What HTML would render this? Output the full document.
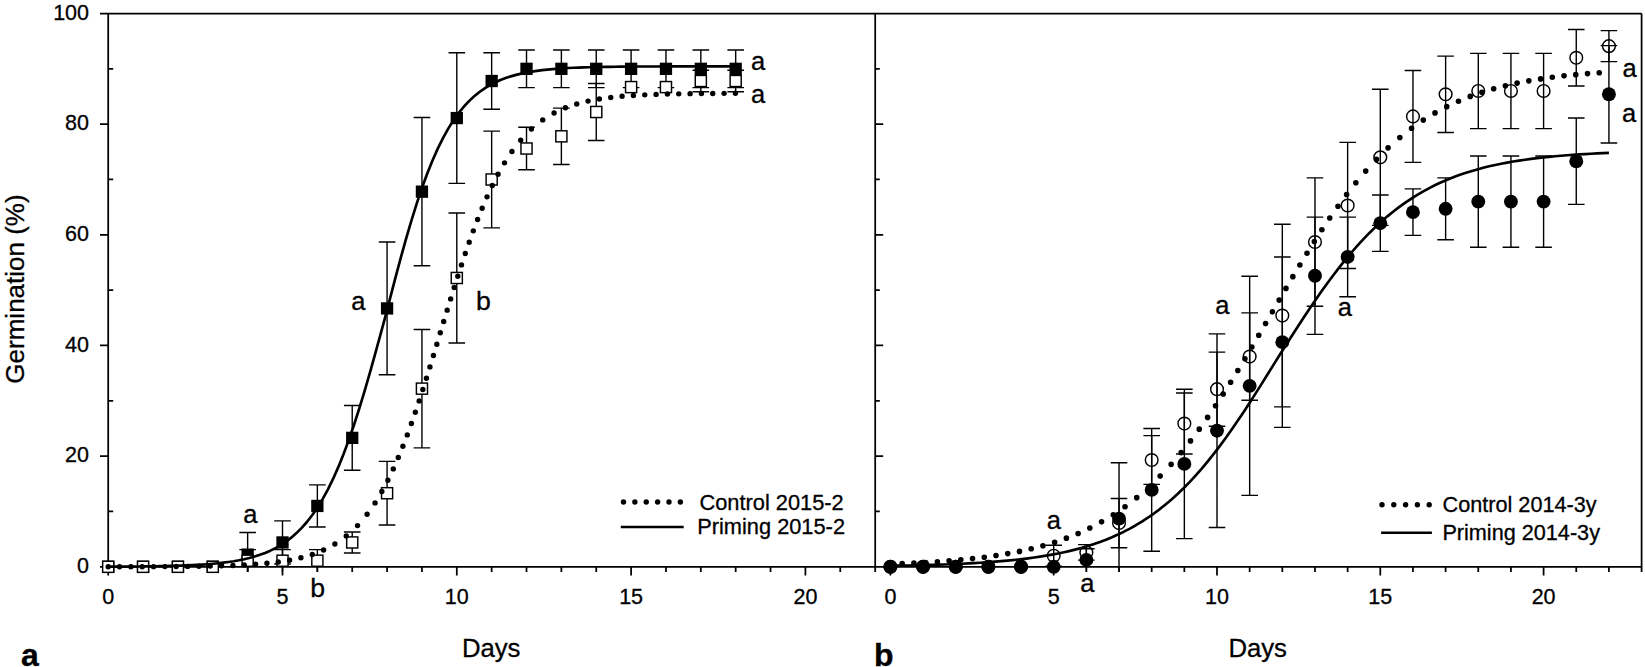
<!DOCTYPE html>
<html lang="en"><head><meta charset="utf-8"><title>Germination curves</title>
<style>html,body{margin:0;padding:0;background:#fff;overflow:hidden}svg{display:block}text{font-family:"Liberation Sans",Arial,sans-serif;fill:#000;stroke:#000;stroke-width:.3px}.tk{font-size:21.5px}.lb{font-size:26px}.an{font-size:27px}.lg{font-size:21.8px}.pn{font-size:32px;font-weight:bold}</style></head><body>
<svg width="1645" height="667" viewBox="0 0 1645 667">
<rect width="1645" height="667" fill="#fff"/>
<path d="M100 13.5H1641.6M100 566.8H1641.6M108.2 13.5V566.8M875.2 13.5V572M1641.6 13.5V572M108.2 511.47H113.2M875.2 511.47H879.8M100 456.14H108.2M875.2 456.14H883.2M108.2 400.81H113.2M875.2 400.81H879.8M100 345.48H108.2M875.2 345.48H883.2M108.2 290.15H113.2M875.2 290.15H879.8M100 234.82H108.2M875.2 234.82H883.2M108.2 179.49H113.2M875.2 179.49H879.8M100 124.16H108.2M875.2 124.16H883.2M108.2 68.83H113.2M875.2 68.83H879.8M108.2 566.8V575.5M143.06 566.8V572M177.92 566.8V572M212.78 566.8V572M247.64 566.8V572M282.5 566.8V575.5M317.36 566.8V572M352.22 566.8V572M387.08 566.8V572M421.94 566.8V572M456.8 566.8V575.5M491.66 566.8V572M526.52 566.8V572M561.38 566.8V572M596.24 566.8V572M631.1 566.8V575.5M665.96 566.8V572M700.82 566.8V572M735.68 566.8V572M770.54 566.8V572M805.4 566.8V575.5M840.26 566.8V572M890.4 566.8V575.5M923.06 566.8V572M955.72 566.8V572M988.38 566.8V572M1021.04 566.8V572M1053.7 566.8V575.5M1086.36 566.8V572M1119.02 566.8V572M1151.68 566.8V572M1184.34 566.8V572M1217 566.8V575.5M1249.66 566.8V572M1282.32 566.8V572M1314.98 566.8V572M1347.64 566.8V572M1380.3 566.8V575.5M1412.96 566.8V572M1445.62 566.8V572M1478.28 566.8V572M1510.94 566.8V572M1543.6 566.8V575.5M1576.26 566.8V572M1608.92 566.8V572" fill="none" stroke="#000" stroke-width="1.75"/>
<g>
<path d="M247.64 532.5V571.8M239.34 532.5H255.94M282.5 520.88V564.03M274.2 520.88H290.8M274.2 564.03H290.8M317.36 484.91V526.96M309.06 484.91H325.66M309.06 526.96H325.66M352.22 405.51V470.25M343.92 405.51H360.52M343.92 470.25H360.52M387.08 242.01V374.8M378.78 242.01H395.38M378.78 374.8H395.38M421.94 117.52V265.8M413.64 117.52H430.24M413.64 265.8H430.24M456.8 52.78V183.36M448.5 52.78H465.1M448.5 183.36H465.1M491.66 52.78V109.22M483.36 52.78H499.96M483.36 109.22H499.96M526.52 50.02V87.64M518.22 50.02H534.82M518.22 87.64H534.82M561.38 50.02V87.64M553.08 50.02H569.68M553.08 87.64H569.68M596.24 50.02V87.64M587.94 50.02H604.54M587.94 87.64H604.54M631.1 50.02V87.64M622.8 50.02H639.4M622.8 87.64H639.4M665.96 50.02V87.64M657.66 50.02H674.26M657.66 87.64H674.26M700.82 50.02V87.64M692.52 50.02H709.12M692.52 87.64H709.12M735.68 50.02V87.64M727.38 50.02H743.98M727.38 87.64H743.98" fill="none" stroke="#000" stroke-width="1.4"/>
<rect x="102.05" y="560.65" width="12.3" height="12.3" fill="#000"/><rect x="136.91" y="560.65" width="12.3" height="12.3" fill="#000"/><rect x="171.77" y="560.65" width="12.3" height="12.3" fill="#000"/><rect x="206.63" y="560.65" width="12.3" height="12.3" fill="#000"/><rect x="241.49" y="548.48" width="12.3" height="12.3" fill="#000"/><rect x="276.35" y="536.3" width="12.3" height="12.3" fill="#000"/><rect x="311.21" y="499.79" width="12.3" height="12.3" fill="#000"/><rect x="346.07" y="431.73" width="12.3" height="12.3" fill="#000"/><rect x="380.93" y="302.26" width="12.3" height="12.3" fill="#000"/><rect x="415.79" y="185.51" width="12.3" height="12.3" fill="#000"/><rect x="450.65" y="111.92" width="12.3" height="12.3" fill="#000"/><rect x="485.51" y="74.85" width="12.3" height="12.3" fill="#000"/><rect x="520.37" y="62.68" width="12.3" height="12.3" fill="#000"/><rect x="555.23" y="62.68" width="12.3" height="12.3" fill="#000"/><rect x="590.09" y="62.68" width="12.3" height="12.3" fill="#000"/><rect x="624.95" y="62.68" width="12.3" height="12.3" fill="#000"/><rect x="659.81" y="62.68" width="12.3" height="12.3" fill="#000"/><rect x="694.67" y="62.68" width="12.3" height="12.3" fill="#000"/><rect x="729.53" y="62.68" width="12.3" height="12.3" fill="#000"/>
<path d="M247.64 549.65V571.78M239.34 549.65H255.94M282.5 549.65V571.78M274.2 549.65H290.8M317.36 549.65V571.78M309.06 549.65H325.66M352.22 531.94V552.97M343.92 531.94H360.52M343.92 552.97H360.52M387.08 461.4V525.03M378.78 461.4H395.38M378.78 525.03H395.38M421.94 329.43V447.84M413.64 329.43H430.24M413.64 447.84H430.24M456.8 212.96V342.99M448.5 212.96H465.1M448.5 342.99H465.1M491.66 131.08V227.9M483.36 131.08H499.96M483.36 227.9H499.96M526.52 127.2V169.81M518.22 127.2H534.82M518.22 169.81H534.82M561.38 108.11V164.55M553.08 108.11H569.68M553.08 164.55H569.68M596.24 83.49V140.48M587.94 83.49H604.54M587.94 140.48H604.54M700.82 70.21V91.79M692.52 70.21H709.12M692.52 91.79H709.12M735.68 70.21V91.79M727.38 70.21H743.98M727.38 91.79H743.98" fill="none" stroke="#000" stroke-width="1.4"/>
<rect x="102.65" y="561.25" width="11.1" height="11.1" fill="#fff" stroke="#000" stroke-width="1.45"/><rect x="137.51" y="561.25" width="11.1" height="11.1" fill="#fff" stroke="#000" stroke-width="1.45"/><rect x="172.37" y="561.25" width="11.1" height="11.1" fill="#fff" stroke="#000" stroke-width="1.45"/><rect x="207.23" y="561.25" width="11.1" height="11.1" fill="#fff" stroke="#000" stroke-width="1.45"/><rect x="242.09" y="555.16" width="11.1" height="11.1" fill="#fff" stroke="#000" stroke-width="1.45"/><rect x="276.95" y="555.16" width="11.1" height="11.1" fill="#fff" stroke="#000" stroke-width="1.45"/><rect x="311.81" y="555.16" width="11.1" height="11.1" fill="#fff" stroke="#000" stroke-width="1.45"/><rect x="346.67" y="536.9" width="11.1" height="11.1" fill="#fff" stroke="#000" stroke-width="1.45"/><rect x="381.53" y="487.66" width="11.1" height="11.1" fill="#fff" stroke="#000" stroke-width="1.45"/><rect x="416.39" y="383.09" width="11.1" height="11.1" fill="#fff" stroke="#000" stroke-width="1.45"/><rect x="451.25" y="272.43" width="11.1" height="11.1" fill="#fff" stroke="#000" stroke-width="1.45"/><rect x="486.11" y="173.94" width="11.1" height="11.1" fill="#fff" stroke="#000" stroke-width="1.45"/><rect x="520.97" y="142.96" width="11.1" height="11.1" fill="#fff" stroke="#000" stroke-width="1.45"/><rect x="555.83" y="130.78" width="11.1" height="11.1" fill="#fff" stroke="#000" stroke-width="1.45"/><rect x="590.69" y="106.44" width="11.1" height="11.1" fill="#fff" stroke="#000" stroke-width="1.45"/><rect x="625.55" y="81.54" width="11.1" height="11.1" fill="#fff" stroke="#000" stroke-width="1.45"/><rect x="660.41" y="81.54" width="11.1" height="11.1" fill="#fff" stroke="#000" stroke-width="1.45"/><rect x="695.27" y="75.45" width="11.1" height="11.1" fill="#fff" stroke="#000" stroke-width="1.45"/><rect x="730.13" y="75.45" width="11.1" height="11.1" fill="#fff" stroke="#000" stroke-width="1.45"/>
<path d="M108.2 566.66L113.43 566.64L118.66 566.61L123.89 566.58L129.12 566.54L134.34 566.5L139.57 566.45L144.8 566.39L150.03 566.32L155.26 566.25L160.49 566.15L165.72 566.04L170.95 565.92L176.18 565.77L181.41 565.6L186.63 565.4L191.86 565.17L197.09 564.89L202.32 564.58L207.55 564.21L212.78 563.78L218.01 563.27L223.24 562.69L228.47 562.01L233.7 561.22L238.93 560.3L244.15 559.22L249.38 557.98L254.61 556.53L259.84 554.86L265.07 552.92L270.3 550.67L275.53 548.07L280.76 545.08L285.99 541.63L291.21 537.66L296.44 533.12L301.67 527.92L306.9 522L312.13 515.28L317.36 507.68L322.59 499.13L327.82 489.56L333.05 478.92L338.28 467.14L343.5 454.23L348.73 440.16L353.96 424.99L359.19 408.76L364.42 391.58L369.65 373.59L374.88 354.96L380.11 335.88L385.34 316.57L390.57 296.33L395.79 276.34L401.02 256.88L406.25 238.15L411.48 220.34L416.71 203.61L421.94 188.06L427.17 173.75L432.4 160.7L437.63 148.91L442.86 138.32L448.08 128.9L453.31 120.55L458.54 113.19L463.77 106.74L469 101.12L474.23 96.22L479.46 91.98L484.69 88.31L489.92 85.14L495.15 82.42L500.38 80.08L505.6 78.07L510.83 76.35L516.06 74.88L521.29 73.62L526.52 72.54L531.75 71.62L536.98 70.84L542.21 70.17L547.44 69.6L552.66 69.12L557.89 68.7L563.12 68.35L568.35 68.05L573.58 67.79L578.81 67.58L584.04 67.39L589.27 67.24L594.5 67.1L599.73 66.99L604.96 66.89L610.18 66.81L615.41 66.74L620.64 66.68L625.87 66.63L631.1 66.59L636.33 66.55L641.56 66.52L646.79 66.49L652.02 66.47L657.25 66.45L662.47 66.43L667.7 66.42L672.93 66.41L678.16 66.4L683.39 66.39L688.62 66.38L693.85 66.38L699.08 66.37L704.31 66.37L709.54 66.36L714.76 66.36L719.99 66.36L725.22 66.35L730.45 66.35L735.68 66.35" fill="none" stroke="#000" stroke-width="2.65" stroke-linejoin="round"/>
<path d="M108.2 566.76h.01M119.56 566.74h.01M130.88 566.72h.01M142.21 566.69h.01M153.57 566.65h.01M164.89 566.6h.01M176.22 566.52h.01M187.58 566.42h.01M198.9 566.28h.01M210.23 566.08h.01M221.55 565.82h.01M232.91 565.45h.01M244.24 564.94h.01M255.56 564.25h.01M266.92 563.3h.01M278.25 561.99h.01M289.57 560.22h.01M300.9 557.79h.01M312.26 554.49h.01M323.58 550.04h.01M334.91 544.06h.01M346.27 536.05h.01M357.53 525.59h.01M367.1 514.27h.01M375.04 502.91h.01M381.84 491.57h.01M387.87 480.22h.01M393.3 468.89h.01M398.28 457.55h.01M402.9 446.27h.01M407.26 434.92h.01M411.4 423.55h.01M415.35 412.21h.01M419.15 400.89h.01M422.85 389.5h.01M426.43 378.21h.01M429.94 366.89h.01M433.42 355.5h.01M436.84 344.19h.01M440.26 332.82h.01M443.68 321.56h.01M447.16 310.17h.01M450.65 298.88h.01M454.19 287.53h.01M457.8 276.18h.01M461.47 264.89h.01M465.27 253.55h.01M469.19 242.23h.01M473.3 230.85h.01M477.6 219.51h.01M482.15 208.18h.01M487.01 196.85h.01M492.28 185.51h.01M498.05 174.19h.01M504.52 162.86h.01M511.92 151.52h.01M520.67 140.2h.01M531.4 129.02h.01M542.73 119.91h.01M554.06 113.01h.01M565.41 107.82h.01M576.74 103.96h.01M588.07 101.1h.01M599.39 98.99h.01M610.75 97.44h.01M622.07 96.3h.01M633.4 95.46h.01M644.76 94.84h.01M656.08 94.4h.01M667.41 94.07h.01M678.74 93.83h.01M690.09 93.65h.01M701.42 93.52h.01M712.75 93.43h.01M724.1 93.36h.01M735.43 93.31h.01" fill="none" stroke="#000" stroke-width="5.4" stroke-linecap="round"/>
</g>
<g>
<path d="M1053.7 545.22V566.25M1045.4 545.22H1062M1045.4 566.25H1062M1086.36 544.67V560.16M1078.06 544.67H1094.66M1078.06 560.16H1094.66M1119.02 498.47V547.71M1110.72 498.47H1127.32M1110.72 547.71H1127.32M1151.68 435.67V484.36M1143.38 435.67H1159.98M1143.38 484.36H1159.98M1184.34 393.06V453.93M1176.04 393.06H1192.64M1176.04 453.93H1192.64M1217 352.12V426.26M1208.7 352.12H1225.3M1208.7 426.26H1225.3M1249.66 312.84V400.26M1241.36 312.84H1257.96M1241.36 400.26H1257.96M1282.32 224.31V406.9M1274.02 224.31H1290.62M1274.02 406.9H1290.62M1314.98 177.83V306.2M1306.68 177.83H1323.28M1306.68 306.2H1323.28M1347.64 142.42V268.57M1339.34 142.42H1355.94M1339.34 268.57H1355.94M1380.3 89.3V225.41M1372 89.3H1388.6M1372 225.41H1388.6M1412.96 70.49V162.34M1404.66 70.49H1421.26M1404.66 162.34H1421.26M1445.62 56.1V132.46M1437.32 56.1H1453.92M1437.32 132.46H1453.92M1478.28 53.34V128.59M1469.98 53.34H1486.58M1469.98 128.59H1486.58M1510.94 53.34V128.59M1502.64 53.34H1519.24M1502.64 128.59H1519.24M1543.6 53.34V128.59M1535.3 53.34H1551.9M1535.3 128.59H1551.9M1576.26 29.55V85.98M1567.96 29.55H1584.56M1567.96 85.98H1584.56M1608.92 30.65V61.64M1600.62 30.65H1617.22M1600.62 61.64H1617.22" fill="none" stroke="#000" stroke-width="1.4"/>
<circle cx="890.4" cy="566.8" r="6.35" fill="none" stroke="#000" stroke-width="1.45"/><circle cx="923.06" cy="566.8" r="6.35" fill="none" stroke="#000" stroke-width="1.45"/><circle cx="955.72" cy="566.8" r="6.35" fill="none" stroke="#000" stroke-width="1.45"/><circle cx="988.38" cy="566.8" r="6.35" fill="none" stroke="#000" stroke-width="1.45"/><circle cx="1021.04" cy="566.8" r="6.35" fill="none" stroke="#000" stroke-width="1.45"/><circle cx="1053.7" cy="555.73" r="6.35" fill="none" stroke="#000" stroke-width="1.45"/><circle cx="1086.36" cy="552.41" r="6.35" fill="none" stroke="#000" stroke-width="1.45"/><circle cx="1119.02" cy="523.09" r="6.35" fill="none" stroke="#000" stroke-width="1.45"/><circle cx="1151.68" cy="460.01" r="6.35" fill="none" stroke="#000" stroke-width="1.45"/><circle cx="1184.34" cy="423.5" r="6.35" fill="none" stroke="#000" stroke-width="1.45"/><circle cx="1217" cy="389.19" r="6.35" fill="none" stroke="#000" stroke-width="1.45"/><circle cx="1249.66" cy="356.55" r="6.35" fill="none" stroke="#000" stroke-width="1.45"/><circle cx="1282.32" cy="315.6" r="6.35" fill="none" stroke="#000" stroke-width="1.45"/><circle cx="1314.98" cy="242.01" r="6.35" fill="none" stroke="#000" stroke-width="1.45"/><circle cx="1347.64" cy="205.5" r="6.35" fill="none" stroke="#000" stroke-width="1.45"/><circle cx="1380.3" cy="157.36" r="6.35" fill="none" stroke="#000" stroke-width="1.45"/><circle cx="1412.96" cy="116.41" r="6.35" fill="none" stroke="#000" stroke-width="1.45"/><circle cx="1445.62" cy="94.28" r="6.35" fill="none" stroke="#000" stroke-width="1.45"/><circle cx="1478.28" cy="90.96" r="6.35" fill="none" stroke="#000" stroke-width="1.45"/><circle cx="1510.94" cy="90.96" r="6.35" fill="none" stroke="#000" stroke-width="1.45"/><circle cx="1543.6" cy="90.96" r="6.35" fill="none" stroke="#000" stroke-width="1.45"/><circle cx="1576.26" cy="57.76" r="6.35" fill="none" stroke="#000" stroke-width="1.45"/><circle cx="1608.92" cy="46.14" r="6.35" fill="none" stroke="#000" stroke-width="1.45"/>
<path d="M1086.36 548.82V570.95M1078.06 548.82H1094.66M1119.02 462.78V571.8M1110.72 462.78H1127.32M1151.68 428.47V551.31M1143.38 428.47H1159.98M1143.38 551.31H1159.98M1184.34 389.19V538.58M1176.04 389.19H1192.64M1176.04 538.58H1192.64M1217 333.86V527.52M1208.7 333.86H1225.3M1208.7 527.52H1225.3M1249.66 276.32V495.42M1241.36 276.32H1257.96M1241.36 495.42H1257.96M1282.32 256.95V427.37M1274.02 256.95H1290.62M1274.02 427.37H1290.62M1314.98 217.11V334.41M1306.68 217.11H1323.28M1306.68 334.41H1323.28M1347.64 217.11V296.79M1339.34 217.11H1355.94M1339.34 296.79H1355.94M1380.3 194.98V251.42M1372 194.98H1388.6M1372 251.42H1388.6M1412.96 188.9V235.37M1404.66 188.9H1421.26M1404.66 235.37H1421.26M1445.62 177.83V239.8M1437.32 177.83H1453.92M1437.32 239.8H1453.92M1478.28 155.97V247.27M1469.98 155.97H1486.58M1469.98 247.27H1486.58M1510.94 155.97V247.27M1502.64 155.97H1519.24M1502.64 247.27H1519.24M1543.6 155.97V247.27M1535.3 155.97H1551.9M1535.3 247.27H1551.9M1576.26 118.07V204.39M1567.96 118.07H1584.56M1567.96 204.39H1584.56M1608.92 45.59V142.97M1600.62 45.59H1617.22M1600.62 142.97H1617.22" fill="none" stroke="#000" stroke-width="1.4"/>
<circle cx="890.4" cy="566.8" r="6.95" fill="#000"/><circle cx="923.06" cy="566.8" r="6.95" fill="#000"/><circle cx="955.72" cy="566.8" r="6.95" fill="#000"/><circle cx="988.38" cy="566.8" r="6.95" fill="#000"/><circle cx="1021.04" cy="566.8" r="6.95" fill="#000"/><circle cx="1053.7" cy="566.8" r="6.95" fill="#000"/><circle cx="1086.36" cy="559.88" r="6.95" fill="#000"/><circle cx="1119.02" cy="518.66" r="6.95" fill="#000"/><circle cx="1151.68" cy="489.89" r="6.95" fill="#000"/><circle cx="1184.34" cy="463.89" r="6.95" fill="#000"/><circle cx="1217" cy="430.69" r="6.95" fill="#000"/><circle cx="1249.66" cy="385.87" r="6.95" fill="#000"/><circle cx="1282.32" cy="342.16" r="6.95" fill="#000"/><circle cx="1314.98" cy="275.76" r="6.95" fill="#000"/><circle cx="1347.64" cy="256.95" r="6.95" fill="#000"/><circle cx="1380.3" cy="223.2" r="6.95" fill="#000"/><circle cx="1412.96" cy="212.13" r="6.95" fill="#000"/><circle cx="1445.62" cy="208.81" r="6.95" fill="#000"/><circle cx="1478.28" cy="201.62" r="6.95" fill="#000"/><circle cx="1510.94" cy="201.62" r="6.95" fill="#000"/><circle cx="1543.6" cy="201.62" r="6.95" fill="#000"/><circle cx="1576.26" cy="161.23" r="6.95" fill="#000"/><circle cx="1608.92" cy="94.28" r="6.95" fill="#000"/>
<path d="M890.4 565.79L896.39 565.69L902.38 565.58L908.36 565.46L914.35 565.33L920.34 565.19L926.33 565.03L932.31 564.86L938.3 564.67L944.29 564.46L950.28 564.24L956.26 563.99L962.25 563.72L968.24 563.42L974.23 563.09L980.21 562.73L986.2 562.34L992.19 561.91L998.18 561.44L1004.17 560.92L1010.15 560.36L1016.14 559.74L1022.13 559.07L1028.12 558.33L1034.1 557.52L1040.09 556.64L1046.08 555.67L1052.07 554.62L1058.05 553.47L1064.04 552.21L1070.03 550.84L1076.02 549.35L1082.01 547.73L1087.99 545.96L1093.98 544.04L1099.97 541.95L1105.96 539.69L1111.94 537.23L1117.93 534.57L1123.92 531.69L1129.91 528.58L1135.89 525.23L1141.88 521.61L1147.87 517.72L1153.86 513.55L1159.85 509.08L1165.83 504.29L1171.82 499.18L1177.81 493.75L1183.8 487.97L1189.78 481.85L1195.77 475.38L1201.76 468.57L1207.75 461.41L1213.73 453.92L1219.72 446.1L1225.71 437.96L1231.7 429.54L1237.68 420.84L1243.67 411.9L1249.66 402.74L1255.65 393.4L1261.64 383.91L1267.62 374.31L1273.61 364.65L1279.6 355.05L1285.59 345.61L1291.57 336.22L1297.56 326.93L1303.55 317.76L1309.54 308.76L1315.52 299.94L1321.51 291.35L1327.5 283.01L1333.49 274.93L1339.47 267.15L1345.46 259.67L1351.45 252.5L1357.44 245.66L1363.43 239.14L1369.41 232.95L1375.4 227.1L1381.39 221.57L1387.38 216.36L1393.36 211.46L1399.35 206.86L1405.34 202.56L1411.33 198.54L1417.31 194.8L1423.3 191.31L1429.29 188.06L1435.28 185.05L1441.27 182.26L1447.25 179.67L1453.24 177.28L1459.23 175.06L1465.22 173.02L1471.2 171.14L1477.19 169.4L1483.18 167.8L1489.17 166.33L1495.15 164.98L1501.14 163.74L1507.13 162.59L1513.12 161.55L1519.11 160.58L1525.09 159.7L1531.08 158.89L1537.07 158.15L1543.06 157.47L1549.04 156.84L1555.03 156.27L1561.02 155.75L1567.01 155.27L1572.99 154.83L1578.98 154.43L1584.97 154.07L1590.96 153.73L1596.94 153.42L1602.93 153.14L1608.92 152.89" fill="none" stroke="#000" stroke-width="2.65" stroke-linejoin="round"/>
<path d="M890.4 564.13h.01M902.15 563.66h.01M913.9 563.12h.01M925.61 562.47h.01M937.36 561.72h.01M949.07 560.84h.01M960.81 559.81h.01M972.53 558.6h.01M984.27 557.19h.01M995.99 555.54h.01M1007.73 553.62h.01M1019.45 551.38h.01M1031.19 548.76h.01M1042.91 545.73h.01M1054.65 542.21h.01M1066.37 538.14h.01M1078.11 533.44h.01M1089.83 528.05h.01M1101.57 521.84h.01M1113.28 514.79h.01M1125.03 506.74h.01M1136.74 497.67h.01M1148.49 487.44h.01M1160.17 476.09h.01M1171.13 464.33h.01M1181.15 452.62h.01M1190.49 440.88h.01M1199.26 429.16h.01M1207.59 417.41h.01M1215.53 405.7h.01M1223.18 393.98h.01M1230.62 382.22h.01M1237.84 370.49h.01M1244.92 358.75h.01M1251.85 347.07h.01M1258.75 335.31h.01M1265.58 323.59h.01M1272.37 311.86h.01M1279.16 300.1h.01M1285.95 288.41h.01M1292.84 276.67h.01M1299.85 264.93h.01M1307 253.19h.01M1314.33 241.47h.01M1321.87 229.77h.01M1329.74 218.03h.01M1337.97 206.28h.01M1346.62 194.55h.01M1355.82 182.82h.01M1365.7 171.1h.01M1376.44 159.38h.01M1388.08 147.87h.01M1399.83 137.48h.01M1411.54 128.26h.01M1423.29 120.08h.01M1435 112.92h.01M1446.75 106.64h.01M1458.46 101.18h.01M1470.21 96.42h.01M1481.92 92.32h.01M1493.67 88.76h.01M1505.38 85.71h.01M1517.13 83.08h.01M1528.84 80.83h.01M1540.59 78.9h.01M1552.3 77.25h.01M1564.05 75.84h.01M1575.76 74.63h.01M1587.51 73.6h.01M1599.22 72.73h.01" fill="none" stroke="#000" stroke-width="5.6" stroke-linecap="round"/>
</g>
<text class="tk" x="89" y="573.1" text-anchor="end">0</text>
<text class="tk" x="89" y="462.44" text-anchor="end">20</text>
<text class="tk" x="89" y="351.78" text-anchor="end">40</text>
<text class="tk" x="89" y="241.12" text-anchor="end">60</text>
<text class="tk" x="89" y="130.46" text-anchor="end">80</text>
<text class="tk" x="89" y="19.8" text-anchor="end">100</text>
<text class="tk" x="108.2" y="604.3" text-anchor="middle">0</text>
<text class="tk" x="890.4" y="604.3" text-anchor="middle">0</text>
<text class="tk" x="282.5" y="604.3" text-anchor="middle">5</text>
<text class="tk" x="1053.7" y="604.3" text-anchor="middle">5</text>
<text class="tk" x="456.8" y="604.3" text-anchor="middle">10</text>
<text class="tk" x="1217" y="604.3" text-anchor="middle">10</text>
<text class="tk" x="631.1" y="604.3" text-anchor="middle">15</text>
<text class="tk" x="1380.3" y="604.3" text-anchor="middle">15</text>
<text class="tk" x="805.4" y="604.3" text-anchor="middle">20</text>
<text class="tk" x="1543.6" y="604.3" text-anchor="middle">20</text>
<text class="lb" transform="translate(24.3 289) rotate(-90)" text-anchor="middle">Germination (%)</text>
<text class="lb" x="461.9" y="657.1" style="font-size:26.5px" textLength="58.6" lengthAdjust="spacingAndGlyphs">Days</text>
<text class="lb" x="1228.4" y="657.1" style="font-size:26.5px" textLength="58.6" lengthAdjust="spacingAndGlyphs">Days</text>
<text class="pn" x="21" y="666.4">a</text>
<text class="pn" x="874.1" y="666.4">b</text>
<text class="an" style="font-size:25.5px" x="243.3" y="522.5">a</text>
<text class="an" style="font-size:26.7px" x="310.3" y="596.6">b</text>
<text class="an" style="font-size:25.5px" x="351.2" y="310.4">a</text>
<text class="an" style="font-size:26.7px" x="475.9" y="310.4">b</text>
<text class="an" style="font-size:25.5px" x="750.9" y="69.5">a</text>
<text class="an" style="font-size:25.5px" x="750.9" y="102.9">a</text>
<text class="an" style="font-size:25.5px" x="1046.8" y="528.6">a</text>
<text class="an" style="font-size:25.5px" x="1080.3" y="592">a</text>
<text class="an" style="font-size:25.5px" x="1215.3" y="314.4">a</text>
<text class="an" style="font-size:25.5px" x="1337.7" y="315.7">a</text>
<text class="an" style="font-size:25.5px" x="1622.5" y="76.8">a</text>
<text class="an" style="font-size:25.5px" x="1621.9" y="122.3">a</text>
<path d="M623.5 502H681" fill="none" stroke="#000" stroke-width="5.4" stroke-linecap="round" stroke-dasharray="0 11.37"/>
<path d="M620.8 527H683.7" fill="none" stroke="#000" stroke-width="2.4"/>
<text class="lg" x="699.5" y="509.6">Control 2015-2</text>
<text class="lg" x="697.2" y="534.3">Priming 2015-2</text>
<path d="M1382 504.7H1430" fill="none" stroke="#000" stroke-width="5.4" stroke-linecap="round" stroke-dasharray="0 11.8"/>
<path d="M1381.1 532.7H1431.9" fill="none" stroke="#000" stroke-width="2.4"/>
<text class="lg" style="font-size:21.65px" x="1442.6" y="512.2">Control 2014-3y</text>
<text class="lg" style="font-size:21.65px" x="1442.4" y="539.9">Priming 2014-3y</text>
</svg></body></html>
